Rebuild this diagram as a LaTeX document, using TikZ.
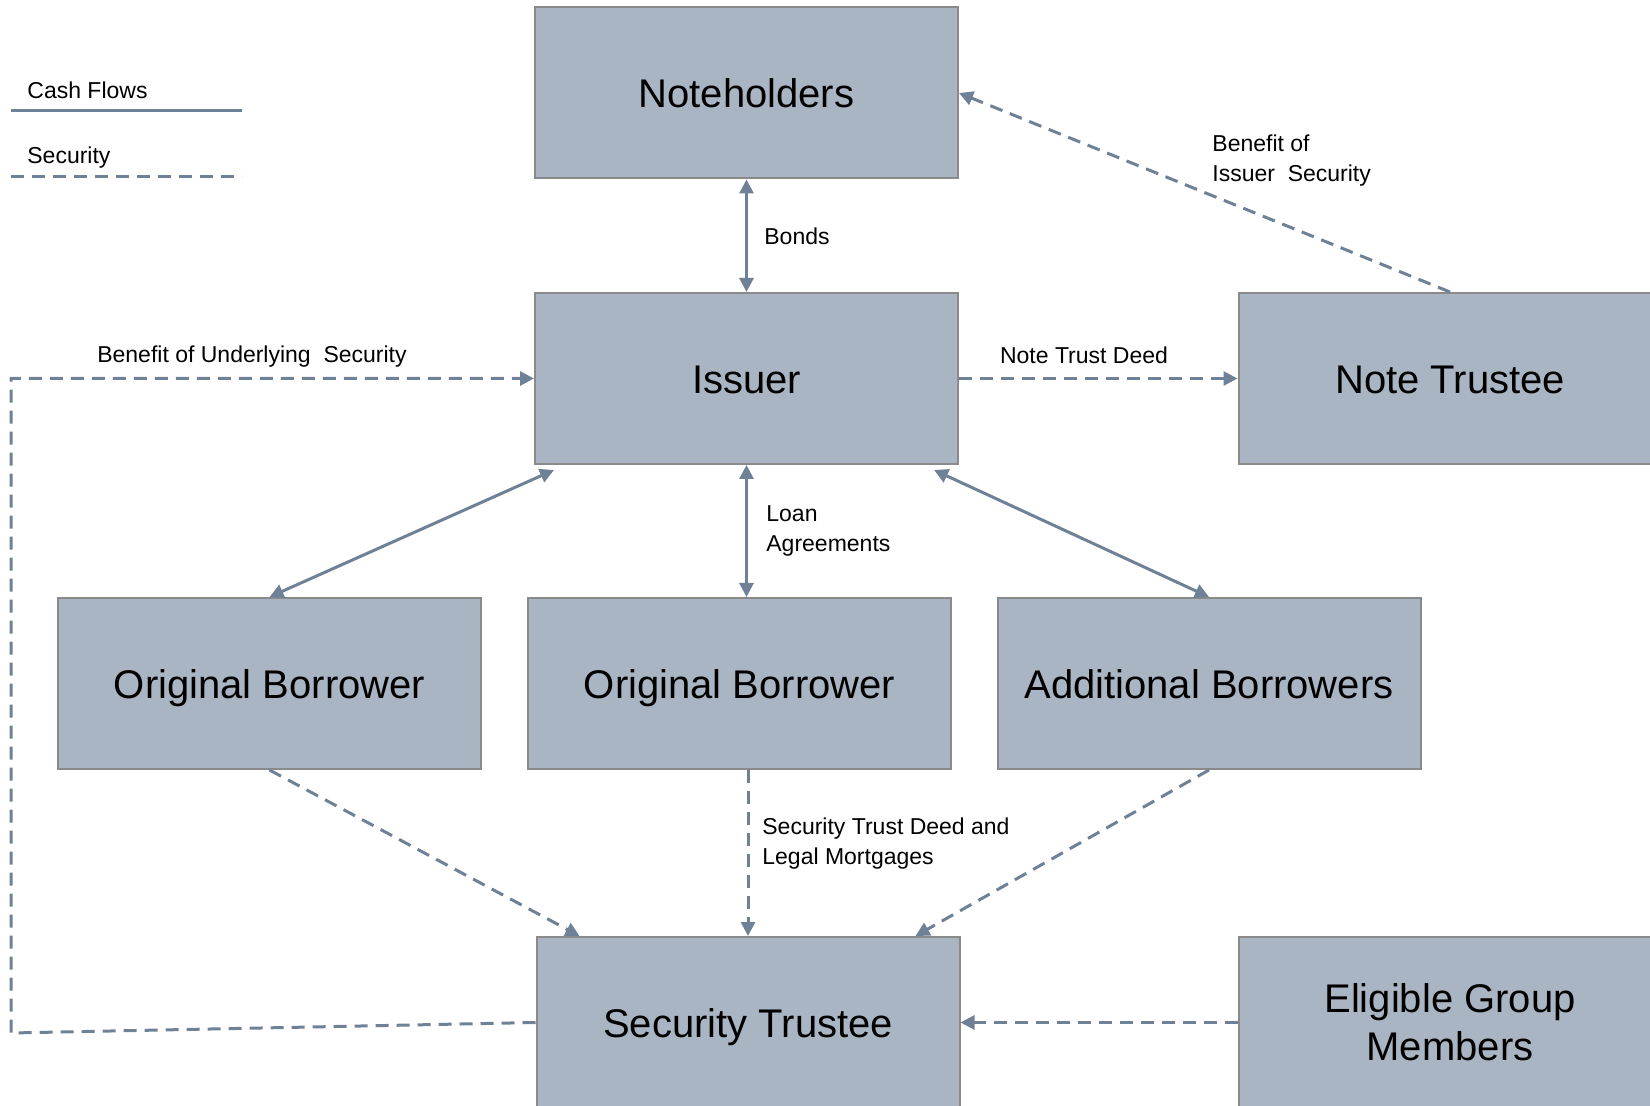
\documentclass[tikz,border=0pt]{standalone}
\usepackage{fontspec}
\setmainfont{Liberation Sans}
\usetikzlibrary{arrows.meta,calc}
\definecolor{boxfill}{HTML}{A9B5C3}
\definecolor{boxline}{HTML}{8A8A8A}
\definecolor{flow}{HTML}{6E8196}
\tikzset{
  party/.style={draw=boxline, line width=1pt, fill=boxfill, minimum width=211.5pt, minimum height=85.5pt, inner sep=0pt, align=center, font=\fontsize{20}{24}\selectfont},
  oneline/.style={text height=15pt, text depth=0pt},
  lbl/.style={inner sep=0pt, align=left, font=\fontsize{11.5}{15}\selectfont},
  cash/.style={draw=flow, line width=1.5pt},
  secur/.style={draw=flow, line width=1.5pt, dash pattern=on 6.5pt off 4pt},
  tip/.style={-{Triangle[length=7pt,width=7pt]}},
  tips/.style={{Triangle[length=7pt,width=7pt]}-{Triangle[length=7pt,width=7pt]}}
}
\begin{document}
\begin{tikzpicture}[x=0.5pt,y=-0.5pt]
\useasboundingbox (0,0) rectangle (1650,1106);
\clip (0,0) rectangle (1650,1106);
% parties
\node[party, oneline] (nh) at (746.5,93) {Noteholders};
\node[party, oneline] (iss) at (746.5,378.5) {Issuer};
\node[party, oneline] (nt) at (1450,378.5) {Note Trustee};
\node[party, oneline] (ob1) at (269.5,683.5) {Original Borrower};
\node[party, oneline] (ob2) at (739.5,683.5) {Original Borrower};
\node[party, oneline] (add) at (1209,683.5) {Additional Borrowers};
\node[party, oneline] (st) at (748,1022.5) {Security Trustee};
\node[party] (eg) at (1450,1022.5) {Eligible Group\\Members};
% legend
\coordinate (l1a) at (11,111); \coordinate (l1b) at (242,111);
\coordinate (l2a) at (11,177); \coordinate (l2b) at (242,177);
\node[lbl, anchor=west] (lcash) at (27,90) {Cash Flows};
\node[lbl, anchor=west] (lsec) at (27,158) {Security};
\draw[cash] (l1a) -- (l1b);
\draw[secur] (l2a) -- (l2b);
% cash flows
\draw[cash, tips] (nh.south) -- (iss.north);
\draw[cash, tips] (iss.south) -- (iss.south |- ob2.north);
\draw[cash, tips] ($(iss.south west)+(20,5)$) -- (ob1.north);
\draw[cash, tips] ($(iss.south east)+(-25,5)$) -- (add.north);
% security
\draw[secur, tip] (nt.north) -- (nh.east);
\draw[secur, tip] (iss.east) -- (nt.west);
\coordinate (c1) at (11,1033);
\coordinate (c2) at (11,378.5);
\draw[secur, tip] (st.west) -- (c1) -- (c2) -- (iss.west);
\draw[secur, tip] (ob1.south) -- ($(st.north west)+(44,0)$);
\draw[secur, tip] (st.north |- ob2.south) -- (st.north);
\draw[secur, tip] (add.south) -- ($(st.north east)+(-45,0)$);
\draw[secur, tip] (eg.west) -- (st.east);
% labels
\node[lbl, anchor=west] (lbonds) at (764,236) {Bonds};
\node[lbl, anchor=west] (lloan) at (766,531) {Loan\\Agreements};
\node[lbl, anchor=west] (lben) at (1212,161) {Benefit of\\Issuer\ \ Security};
\node[lbl] (lund) at (252,357) {Benefit of Underlying\ \ Security};
\node[lbl] (lntd) at (1084,355) {Note Trust Deed};
\node[lbl, anchor=west] (lstd) at (762,844) {Security Trust Deed and\\Legal Mortgages};
\end{tikzpicture}
\end{document}
